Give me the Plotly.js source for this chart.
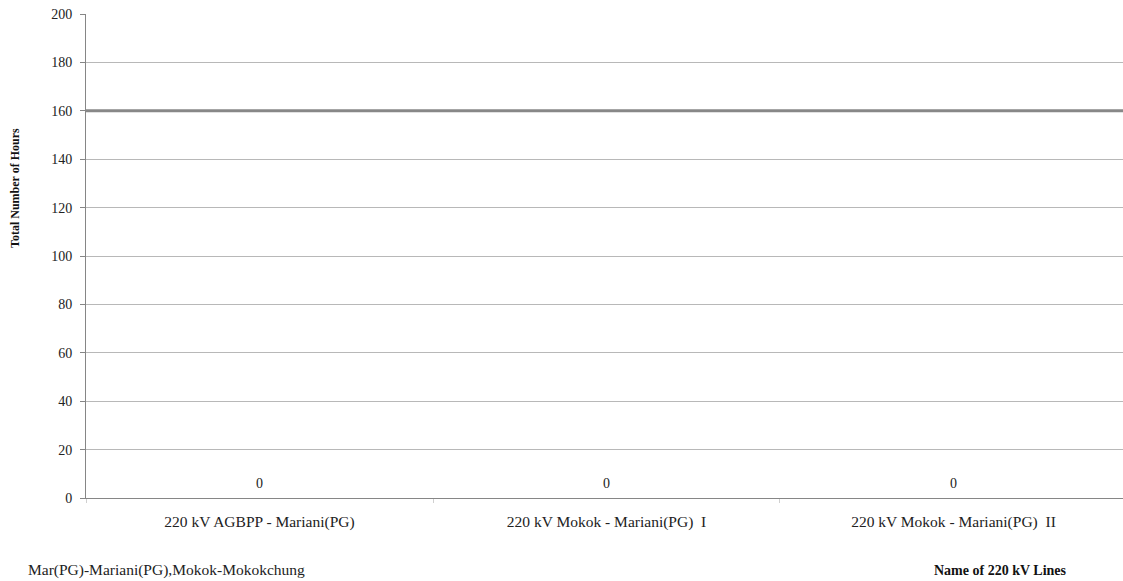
<!DOCTYPE html>
<html>
<head>
<meta charset="utf-8">
<script src="https://cdn.plot.ly/plotly-3.0.1.min.js"></script>
<style>
  html, body { margin: 0; padding: 0; background: #fff; overflow: hidden; }
  #chart { width: 1123px; height: 581px; }
</style>
</head>
<body>
<div id="chart"></div>
<script>
// 220 kV line outage hours
const lineNames = [
  "220 kV AGBPP - Mariani(PG)",
  "220 kV Mokok - Mariani(PG)  I",
  "220 kV Mokok - Mariani(PG)  II"
];
const totalHours = [0, 0, 0];
const limitHours = 160;
const yTicks = [0, 20, 40, 60, 80, 100, 120, 140, 160, 180, 200];

const serif = "Liberation Serif";

const traces = [
  {
    type: "bar",
    x: lineNames,
    y: totalHours,
    marker: { color: "#4f81bd" },
    hoverinfo: "x+y",
    showlegend: false
  }
];

// value labels above each bar
const valueLabels = lineNames.map((name, i) => ({
  x: name,
  y: totalHours[i],
  xref: "x", yref: "y",
  text: String(totalHours[i]),
  showarrow: false,
  yshift: 15,
  xanchor: "center", yanchor: "middle",
  font: { family: serif, size: 14, color: "#222" }
}));

const layout = {
  width: 1123,
  height: 581,
  margin: { l: 86, r: 0, t: 14, b: 83 },
  paper_bgcolor: "#fff",
  plot_bgcolor: "#fff",
  font: { family: serif, size: 14, color: "#222" },
  xaxis: {
    type: "category",
    range: [-0.5, 2.4885],
    showline: true,
    linecolor: "#868686",
    linewidth: 1,
    showgrid: false,
    ticks: "outside",
    tickson: "boundaries",
    ticklen: 4,
    tickcolor: "#d0d0d0",
    ticklabelstandoff: 9,
    tickfont: { family: serif, size: 15.5, color: "#222" },
    fixedrange: true
  },
  yaxis: {
    range: [0, 200],
    tickvals: yTicks,
    showline: true,
    linecolor: "#868686",
    linewidth: 1,
    showgrid: true,
    gridcolor: "#b8b8b8",
    gridwidth: 1,
    zeroline: false,
    ticks: "outside",
    ticklen: 5,
    tickcolor: "#868686",
    ticklabelstandoff: 5,
    tickfont: { family: serif, size: 14, color: "#222" },
    fixedrange: true
  },
  shapes: [
    {
      type: "line",
      xref: "paper", x0: 0, x1: 1,
      yref: "y", y0: limitHours, y1: limitHours,
      line: { color: "#888888", width: 3 }
    }
  ],
  annotations: valueLabels.concat([
    {
      text: "<b>Total Number of Hours</b>",
      textangle: -90,
      xref: "paper", yref: "paper",
      x: -71 / 1037, y: (498 - 188) / 484,
      xanchor: "center", yanchor: "middle",
      showarrow: false,
      font: { family: serif, size: 12, color: "#111" }
    },
    {
      text: "<b>Name of 220 kV Lines</b>",
      xref: "paper", yref: "paper",
      x: (1000 - 86) / 1037, y: -72 / 484,
      xanchor: "center", yanchor: "middle",
      showarrow: false,
      font: { family: serif, size: 14, color: "#111" }
    },
    {
      text: "Mar(PG)-Mariani(PG),Mokok-Mokokchung",
      xref: "paper", yref: "paper",
      x: (26 - 86) / 1037, y: -72 / 484,
      xanchor: "left", yanchor: "middle",
      showarrow: false,
      font: { family: serif, size: 15.5, color: "#222" }
    }
  ])
};

Plotly.newPlot("chart", traces, layout, { displayModeBar: false, staticPlot: true });
</script>
</body>
</html>
